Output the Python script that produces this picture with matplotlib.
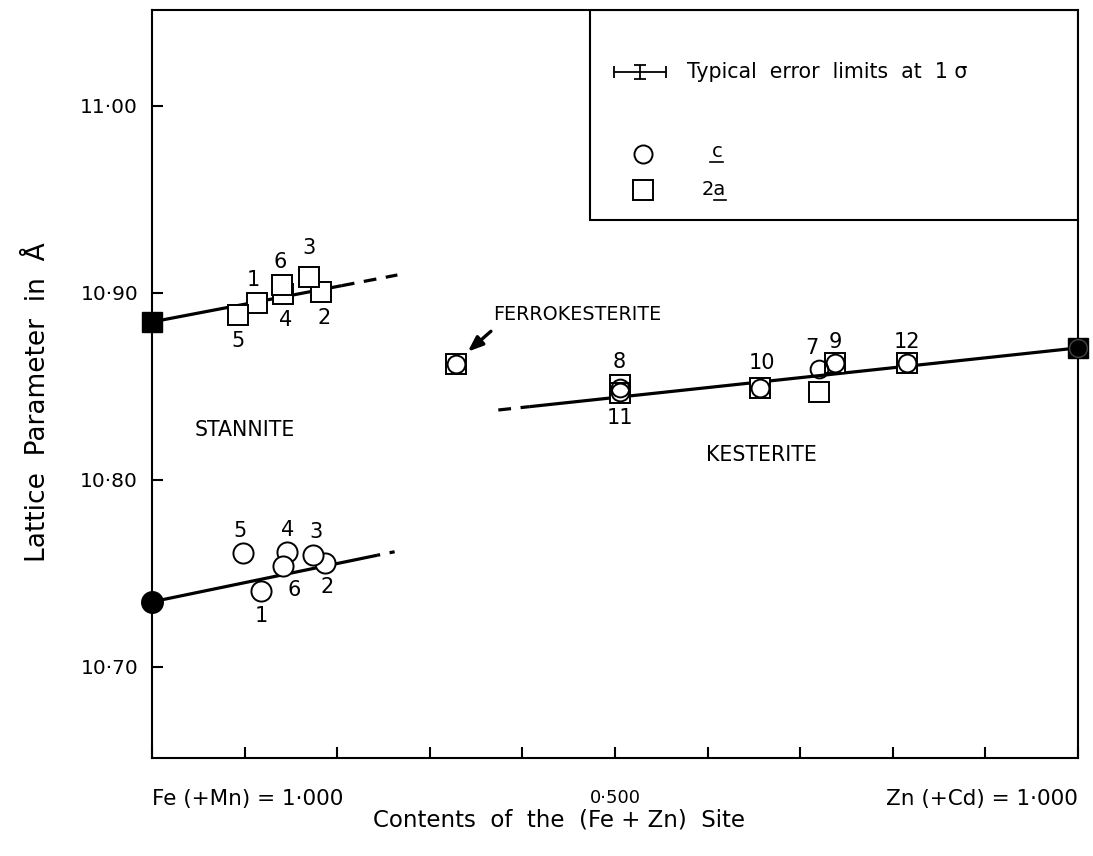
import matplotlib
matplotlib.use("Agg")
import matplotlib.pyplot as plt
from matplotlib.patches import Rectangle

plt.rcParams['font.family'] = ['DejaVu Sans']

# ---------------- data ----------------
# Stannite samples 1-6
st_ids = [1, 2, 3, 4, 5, 6]
st_x_2a = [0.113, 0.183, 0.170, 0.141, 0.0925, 0.140]
st_2a = [10.8947, 10.9005, 10.9086, 10.8995, 10.888, 10.904]
st_x_c = [0.118, 0.187, 0.174, 0.146, 0.0978, 0.142]
st_c = [10.7406, 10.7556, 10.7599, 10.7615, 10.761, 10.754]

# Kesterite samples 7-12
k_ids = [7, 8, 9, 10, 11, 12]
k_x = [0.720, 0.505, 0.738, 0.657, 0.505, 0.815]
k_2a = [10.847, 10.8508, 10.8626, 10.849, 10.8465, 10.8626]
k_c = [10.8594, 10.8492, 10.8626, 10.849, 10.8471, 10.8626]

# Ferrokesterite
fk_x = [0.328]
fk_2a = [10.862]
fk_c = [10.862]

# End members (synthetic)
end_st_x = [0.0]
end_st_2a = [10.8845]
end_st_c = [10.7348]
end_k_x = [1.0]
end_k_2a = [10.8706]
end_k_c = [10.8706]

# Trend lines (solid part, dashed extrapolation)
st2a_solid_x = [0.0, 0.205]
st2a_solid_y = [10.8845, 10.9039]
st2a_dash_x = [0.205, 0.265]
st2a_dash_y = [10.9039, 10.9096]
stc_solid_x = [0.0, 0.243]
stc_solid_y = [10.7348, 10.7597]
stc_dash_x = [0.243, 0.262]
stc_dash_y = [10.7597, 10.7616]
k_dash_x = [0.374, 0.408]
k_dash_y = [10.8374, 10.8392]
k_solid_x = [0.408, 1.0]
k_solid_y = [10.8392, 10.8706]

# typical errors (1 sigma)
err_x = [0.028]
err_y = [0.0037]

yticks = [10.70, 10.80, 10.90, 11.00]
ytick_labels = ['10·70', '10·80', '10·90', '11·00']
xticks = [0.0, 0.1, 0.2, 0.3, 0.4, 0.5, 0.6, 0.7, 0.8, 0.9, 1.0]
xtick_labels = ['Fe (+Mn) = 1·000', '', '', '', '', '0·500', '', '', '', '', 'Zn (+Cd) = 1·000']

# ---------------- figure ----------------
W, H = 1093, 856
fig = plt.figure(figsize=(W / 100, H / 100), dpi=100)
ax = fig.add_axes([152 / W, 1 - 758 / H, 926 / W, 748 / H])
ax.set_xlim(0, 1)
ax.set_ylim(10.6513, 11.0513)

for s in ax.spines.values():
    s.set_linewidth(1.5)

lw_line = 2.3
ax.plot(st2a_solid_x, st2a_solid_y, color='black', lw=lw_line, zorder=2, solid_capstyle='butt')
ax.plot(st2a_dash_x, st2a_dash_y, color='black', lw=lw_line, ls=(0, (4, 3)), zorder=2)
ax.plot(stc_solid_x, stc_solid_y, color='black', lw=lw_line, zorder=2, solid_capstyle='butt')
ax.plot(stc_dash_x, stc_dash_y, color='black', lw=lw_line, ls=(3, (4, 3)), zorder=2)
ax.plot(k_dash_x, k_dash_y, color='black', lw=lw_line, ls=(0, (4, 3)), zorder=2)
ax.plot(k_solid_x, k_solid_y, color='black', lw=lw_line, zorder=2, solid_capstyle='butt')

sq_ms = 15
c_ms = 14.5
c_in_ms = 12.8
mew = 1.4
# stannite
ax.plot(st_x_2a, st_2a, 's', ms=sq_ms, mfc='white', mec='black', mew=mew, ls='none', zorder=3)
ax.plot(st_x_c, st_c, 'o', ms=c_ms, mfc='white', mec='black', mew=mew, ls='none', zorder=3)
# kesterite: squares then circles on top
ax.plot(k_x, k_2a, 's', ms=sq_ms, mfc='white', mec='black', mew=mew, ls='none', zorder=3)
ax.plot(k_x, k_c, 'o', ms=c_in_ms, mfc='none', mec='black', mew=mew, ls='none', zorder=4)
# ferrokesterite
ax.plot(fk_x, fk_2a, 's', ms=sq_ms, mfc='white', mec='black', mew=mew, ls='none', zorder=3)
ax.plot(fk_x, fk_c, 'o', ms=c_in_ms, mfc='none', mec='black', mew=mew, ls='none', zorder=4)
# end members (filled)
ax.plot(end_st_x, end_st_2a, 's', ms=sq_ms, color='black', ls='none', zorder=5, clip_on=False)
ax.plot(end_st_x, end_st_c, 'o', ms=c_ms + 1, color='black', ls='none', zorder=5, clip_on=False)
ax.plot(end_k_x, end_k_2a, 's', ms=sq_ms, color='black', ls='none', zorder=5, clip_on=False)
ax.plot(end_k_x, end_k_c, 'o', ms=c_in_ms, mfc='none', mec='#444444', mew=1.0, ls='none', zorder=6, clip_on=False)

# number labels (offsets in pixels)
num_fs = 15
px = 0.72
st_sq_off = {1: (-3, 23), 2: (3, -26), 3: (0, 29), 4: (3, -26), 5: (0, -26), 6: (-1, 23)}
st_c_off = {1: (0, -25), 2: (2, -24), 3: (3, 23), 4: (0, 22), 5: (-3, 22), 6: (11, -24)}
for i, sid in enumerate(st_ids):
    dx, dy = st_sq_off[sid]
    ax.annotate(str(sid), (st_x_2a[i], st_2a[i]), xytext=(dx * px, dy * px),
                textcoords='offset points', ha='center', va='center', fontsize=num_fs)
    dx, dy = st_c_off[sid]
    ax.annotate(str(sid), (st_x_c[i], st_c[i]), xytext=(dx * px, dy * px),
                textcoords='offset points', ha='center', va='center', fontsize=num_fs)

k_off = {7: (-7, 21, 'c'), 8: (0, 23, 'a'), 9: (0, 21, 'a'), 10: (2, 25, 'a'),
         11: (0, -25, 'a'), 12: (0, 21, 'a')}
for i, kid in enumerate(k_ids):
    dx, dy, which = k_off[kid]
    yy = k_c[i] if which == 'c' else k_2a[i]
    ax.annotate(str(kid), (k_x[i], yy), xytext=(dx * px, dy * px),
                textcoords='offset points', ha='center', va='center', fontsize=num_fs)

# region labels
ax.text(0.100, 10.8267, 'STANNITE', ha='center', va='center', fontsize=14.8)
ax.text(0.658, 10.8134, 'KESTERITE', ha='center', va='center', fontsize=14.8)
ax.text(0.368, 10.8882, 'FERROKESTERITE', ha='left', va='center', fontsize=13.8)
ax.annotate('', xy=(0.341, 10.8686), xytext=(0.366, 10.8795),
            arrowprops=dict(arrowstyle='-|>,head_length=0.9,head_width=0.35',
                            color='black', lw=2.4, shrinkA=0, shrinkB=0))

# legend box
ax.add_patch(Rectangle((0.473, 0.719), 0.527, 0.281, transform=ax.transAxes,
                       fill=False, ec='black', lw=1.5, zorder=6))
ax.errorbar([0.527], [11.018], xerr=err_x, yerr=err_y, fmt='none', ecolor='black',
            elinewidth=1.3, capsize=4.5, capthick=1.3, zorder=7)
ax.text(0.578, 0.917, 'Typical  error  limits  at  1 σ', transform=ax.transAxes,
        ha='left', va='center', fontsize=14.8)
ax.plot([0.530], [0.807], 'o', ms=13, mfc='white', mec='black', mew=1.4,
        transform=ax.transAxes, zorder=7)
ax.plot([0.530], [0.759], 's', ms=14, mfc='white', mec='black', mew=1.4,
        transform=ax.transAxes, zorder=7)
ax.text(0.610, 0.8035, 'c', transform=ax.transAxes, ha='center', va='baseline', fontsize=14)
ax.plot([0.603, 0.617], [0.797, 0.797], color='black', lw=1.2, transform=ax.transAxes)
ax.text(0.594, 0.7527, '2a', transform=ax.transAxes, ha='left', va='baseline', fontsize=14)
ax.plot([0.607, 0.620], [0.7465, 0.7465], color='black', lw=1.2, transform=ax.transAxes)

# ticks
ax.set_yticks(yticks)
ax.set_yticklabels(ytick_labels, fontsize=14.5)
ax.set_xticks(xticks)
ax.set_xticklabels(xtick_labels, fontsize=15.5)
ax.tick_params(axis='both', direction='in', length=8, width=1.5)
ax.tick_params(axis='y', pad=10)
ax.tick_params(axis='x', pad=22)
labs = ax.get_xticklabels()
labs[0].set_ha('left')
labs[-1].set_ha('right')
labs[5].set_fontsize(13)

ax.set_ylabel('Lattice  Parameter  in  Å', fontsize=19)
ax.yaxis.set_label_coords(-0.109, 0.476)
ax.set_xlabel('Contents  of  the  (Fe + Zn)  Site', fontsize=16.5)
ax.xaxis.set_label_coords(0.44, -0.068)

fig.savefig('out.png', dpi=100)
